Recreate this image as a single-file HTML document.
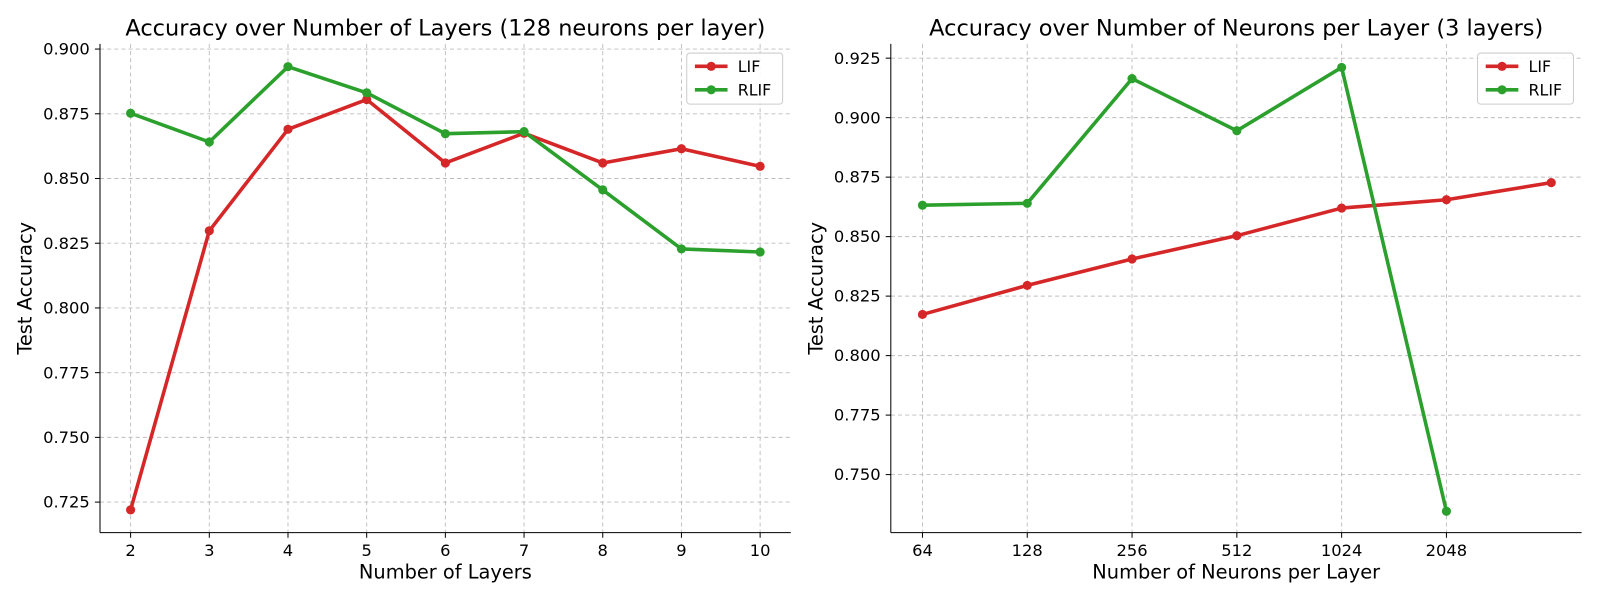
<!DOCTYPE html>
<html><head><meta charset="utf-8"><style>
body{margin:0;background:#fff;font-family:"Liberation Sans","DejaVu Sans",sans-serif}
svg text{font-family:"DejaVu Sans","Liberation Sans",sans-serif}
</style></head><body>
<svg width="1600" height="600"><g id="root" transform="scale(1.0204)"></g></svg>
<script>
const leftCats=[2,3,4,5,6,7,8,9,10];
const leftLIF=[0.722,0.8298,0.869,0.8805,0.856,0.8675,0.856,0.8615,0.8547];
const leftRLIF=[0.8752,0.8641,0.8932,0.8831,0.8673,0.8681,0.8456,0.8228,0.8216];
const leftTicks=[0.725,0.750,0.775,0.800,0.825,0.850,0.875,0.900];
const rightCats=["64","128","256","512","1024","2048",""];
const rightLIF=[0.8173,0.8295,0.8406,0.8504,0.862,0.8655,0.8727];
const rightRLIF=[0.8632,0.864,0.9164,0.8945,0.9211,0.7346];
const rightTicks=[0.750,0.775,0.800,0.825,0.850,0.875,0.900,0.925];
const NS="http://www.w3.org/2000/svg";
const root=document.getElementById('root');
function mk(tag,attrs,parent,text){const e=document.createElementNS(NS,tag);for(const k in attrs)e.setAttribute(k,attrs[k]);if(text!==undefined)e.textContent=text;(parent||root).appendChild(e);return e;}
function chart(o){
  const g=mk('g',{});
  
  
  const L=o.L,R=o.R,T=43,B=522;
  const xs=v=>L+(v-o.x0)/(o.x1-o.x0)*(R-L);
  const ys=v=>B-(v-o.y0)/(o.y1-o.y0)*(B-T);
  o.xvals.forEach((v,i)=>{if(o.xlabels[i]==='')return;const x=xs(v);
    const gl=mk('line',{x1:x,x2:x,y1:T,y2:B,stroke:'#bdbdbd','stroke-dasharray':'4,3','stroke-width':0.9},g);
    
    mk('line',{x1:x,x2:x,y1:B,y2:B+5,stroke:'#000'},g);
    const t=mk('text',{x:x,y:B+23,'text-anchor':'middle','font-size':16},g,o.xlabels[i]);
    
  });
  o.yticks.forEach(v=>{const y=ys(v);
    const gl=mk('line',{x1:L,x2:R,y1:y,y2:y,stroke:'#bdbdbd','stroke-dasharray':'4,3','stroke-width':0.9},g);
    
    mk('line',{x1:L-5,x2:L,y1:y,y2:y,stroke:'#000'},g);
    const t=mk('text',{x:L-10,y:y+5.5,'text-anchor':'end','font-size':16},g,v.toFixed(3));
    
  });
  mk('line',{x1:L,x2:L,y1:T,y2:B,stroke:'#000','stroke-width':1},g);
  mk('line',{x1:L,x2:R,y1:B,y2:B,stroke:'#000','stroke-width':1},g);
  const series=[[o.lif,'#d62728','lif-line'],[o.rlif,'#2ca02c','rlif-line']];
  series.forEach(([d,c,n])=>{
    const pts=d.map((v,i)=>xs(o.xvals[i])+','+ys(v)).join(' ');
    const pl=mk('polyline',{points:pts,fill:'none',stroke:c,'stroke-width':3.5,'stroke-linejoin':'round'},g);
    
    d.forEach((v,i)=>{const m=mk('circle',{cx:xs(o.xvals[i]),cy:ys(v),r:4.5,fill:c},g);
      });
  });
  const tt=mk('text',{x:(L+R)/2,y:35,'text-anchor':'middle','font-size':22},g,o.title);
  
  const xt=mk('text',{x:(L+R)/2,y:567,'text-anchor':'middle','font-size':19},g,o.xtitle);
  
  const yt=mk('text',{x:0,y:0,'text-anchor':'middle','font-size':19,transform:`translate(${L-67},${(T+B)/2}) rotate(-90)`},g,'Test Accuracy');
  
  const lg=mk('g',{},g);
  
  mk('rect',{x:R-102,y:52,width:94,height:50,rx:3,fill:'#fff','fill-opacity':0.85,stroke:'#ccc'},lg);
  [['LIF','#d62728',65],['RLIF','#2ca02c',88]].forEach(([n,c,y])=>{
    mk('line',{x1:R-94,x2:R-62,y1:y,y2:y,stroke:c,'stroke-width':3.5},lg);
    mk('circle',{cx:R-78,cy:y,r:4.5,fill:c},lg);
    const t=mk('text',{x:R-52,y:y+5.5,'font-size':15.5},lg,n);
    
  });
}
chart({name:'layers-chart',L:98,R:775,x0:1.611,x1:10.39,y0:0.7132,y1:0.902,
  xvals:leftCats,xlabels:leftCats.map(String),yticks:leftTicks,lif:leftLIF,rlif:leftRLIF,
  title:'Accuracy over Number of Layers (128 neurons per layer)',xtitle:'Number of Layers'});
chart({name:'neurons-chart',L:873,R:1550,x0:-0.302,x1:6.29,y0:0.7256,y1:0.931,
  xvals:rightCats.map((c,i)=>i),xlabels:rightCats,yticks:rightTicks,lif:rightLIF,rlif:rightRLIF,
  title:'Accuracy over Number of Neurons per Layer (3 layers)',xtitle:'Number of Neurons per Layer'});
</script>
</body></html>
